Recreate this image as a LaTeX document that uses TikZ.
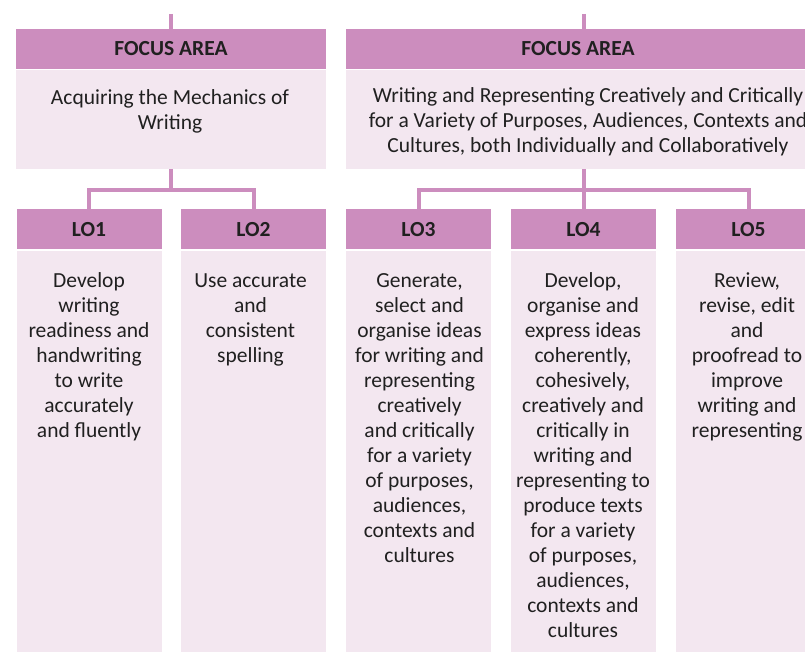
\documentclass[tikz,border=0pt]{standalone}
\usepackage{fontspec}
\setmainfont{Carlito}
\definecolor{hdr}{RGB}{204,141,190}
\definecolor{bdy}{RGB}{243,231,240}
\definecolor{ink}{RGB}{32,32,32}
\begin{document}
\begin{tikzpicture}[x=1pt,y=-1pt,
  txtfont/.style={font=\fontsize{21.5}{25}\selectfont, text=ink},
  hdrbox/.style={fill=hdr, draw=none, inner sep=0pt, minimum height=40pt,
    txtfont, font=\fontsize{21.5}{25}\selectfont\bfseries},
  bdybox/.style={fill=bdy, draw=none, inner sep=0pt},
  bodytext/.style={txtfont, anchor=north, align=center, inner sep=0pt},
  conn/.style={draw=hdr, line width=4pt}]
\useasboundingbox (0,0) rectangle (805,652);
\clip (0,0) rectangle (805,652);

% ---- focus area: mechanics of writing
\node[hdrbox, minimum width=310pt] (fa1h) at (171,49) {FOCUS AREA};
\node[bdybox, minimum width=310pt, minimum height=99pt] (fa1b) at (171,119.5) {};
\node[bodytext] (fa1t) at (170,87) {\strut Acquiring the Mechanics of\\\strut Writing};

% ---- focus area: writing and representing
\node[hdrbox, minimum width=475pt] (fa2h) at (583.5,49) {};
\node[txtfont, font=\fontsize{21.5}{25}\selectfont\bfseries, inner sep=0pt] (fa2l) at (578,49) {FOCUS AREA};
\node[bdybox, minimum width=475pt, minimum height=99pt] (fa2b) at (583.5,119.5) {};
\node[bodytext] (fa2t) at (588,85) {\strut Writing and Representing Creatively and Critically\\
  \strut for a Variety of Purposes, Audiences, Contexts and\\
  \strut Cultures, both Individually and Collaboratively};

% ---- learning outcomes
\foreach \n/\cx in {1/89,2/253.5,3/418.5,4/583.5,5/748.5}{
  \node[hdrbox, minimum width=145pt] (lo\n h) at (\cx,229.5) {LO\n};
  \node[bdybox, minimum width=145pt, minimum height=401pt] (lo\n b) at (\cx,451.5) {};
}
\node[bodytext] (lo1t) at (89,269.5) {\strut Develop\\\strut writing\\\strut readiness and\\
  \strut handwriting\\\strut to write\\\strut accurately\\\strut and fluently};
\node[bodytext] (lo2t) at (250.5,269.5) {\strut Use accurate\\\strut and\\\strut consistent\\\strut spelling};
\node[bodytext] (lo3t) at (419.5,269.5) {\strut Generate,\\\strut select and\\\strut organise ideas\\
  \strut for writing and\\\strut representing\\\strut creatively\\\strut and critically\\
  \strut for a variety\\\strut of purposes,\\\strut audiences,\\\strut contexts and\\\strut cultures};
\node[bodytext] (lo4t) at (583,269.5) {\strut Develop,\\\strut organise and\\\strut express ideas\\
  \strut coherently,\\\strut cohesively,\\\strut creatively and\\\strut critically in\\
  \strut writing and\\\strut representing to\\\strut produce texts\\\strut for a variety\\
  \strut of purposes,\\\strut audiences,\\\strut contexts and\\\strut cultures};
\node[bodytext] (lo5t) at (747,269.5) {\strut Review,\\\strut revise, edit\\\strut and\\
  \strut proofread to\\\strut improve\\\strut writing and\\\strut representing};

% ---- connectors
\coordinate (top1) at (171,14);
\coordinate (top2) at (583.5,14);
\draw[conn] (top1) -- (fa1h.north);
\draw[conn] (top2) -- (fa2h.north);
\draw[conn] (fa1b.south) -- ++(0,21) -| (lo1h.north);
\draw[conn] (fa1b.south) -- ++(0,21) -| (lo2h.north);
\draw[conn] (fa2b.south) -- ++(0,21) -| (lo3h.north);
\draw[conn] (fa2b.south) -- ++(0,21) -| (lo5h.north);
\draw[conn] (fa2b.south) -- (lo4h.north);
\end{tikzpicture}
\end{document}
